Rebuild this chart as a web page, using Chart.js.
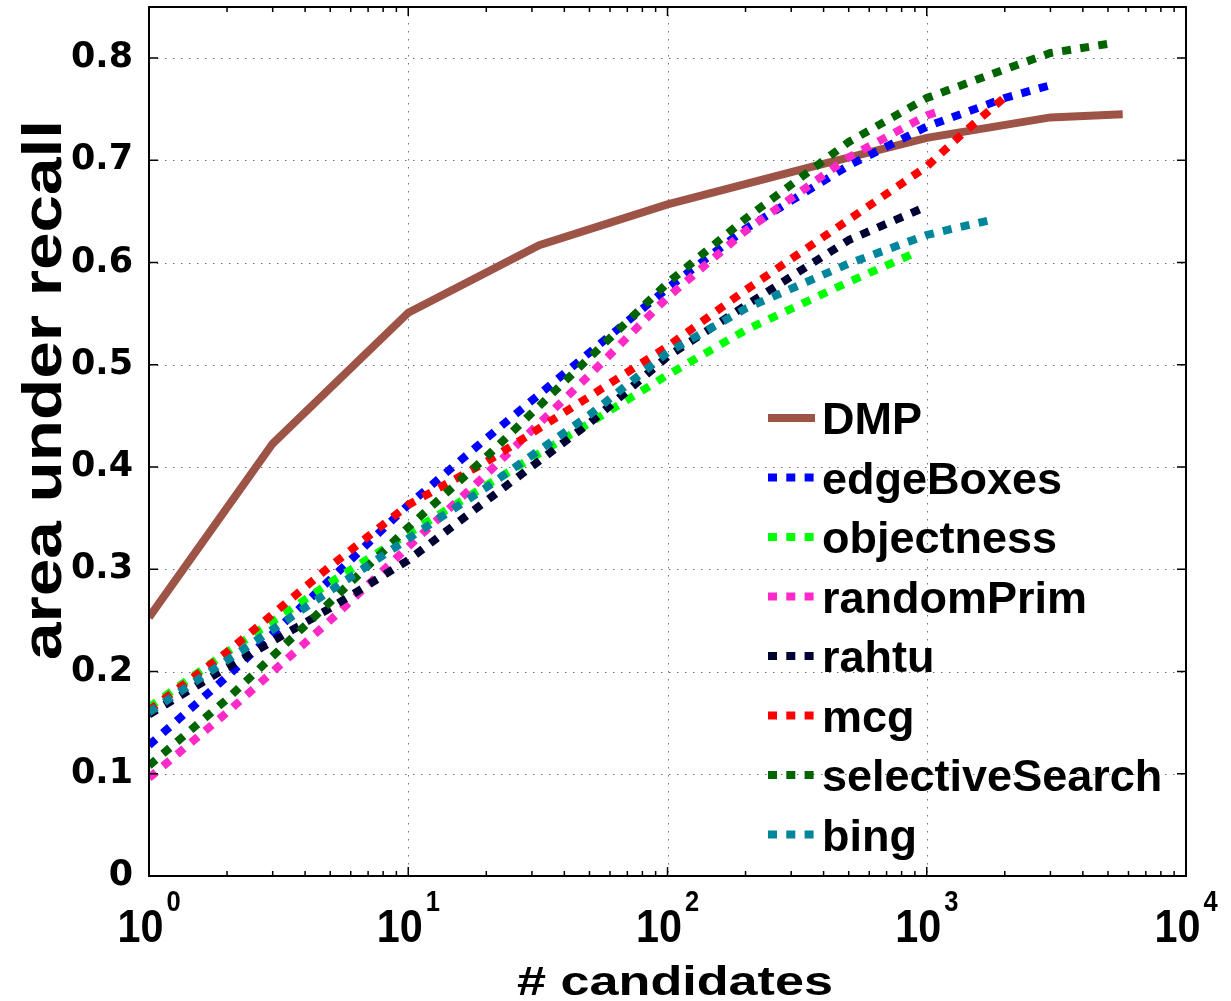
<!DOCTYPE html>
<html lang="en">
<head>
  <meta charset="UTF-8">
  <title>area under recall vs # candidates</title>
  <style>
    body { margin: 0; background: #fff; }
    #wrap { width: 1231px; height: 1001px; }
  </style>
</head>
<body>
  <div id="wrap"><canvas id="chart" width="1231" height="1001"></canvas></div>
  <script src="https://cdn.jsdelivr.net/npm/chart.js"></script>
  <script>
    // values (x = # candidates, y = area under recall)
    const methods = ['DMP', 'edgeBoxes', 'objectness', 'randomPrim', 'rahtu', 'mcg', 'selectiveSearch', 'bing'];
    const colors = ['#9E5347', '#0000FF', '#00FF00', '#FF28C8', '#000033', '#FF0000', '#006400', '#00869A'];

    const dmpX = [1, 3, 10, 32, 100, 350, 1000, 3000, 5700];
    const dmpY = [0.253, 0.423, 0.551, 0.617, 0.657, 0.693, 0.722, 0.742, 0.745];

    const edgeBoxesX = [1, 2, 5, 10, 20, 50, 100, 200, 500, 1000, 2000, 3150];
    const edgeBoxesY = [0.128, 0.195, 0.29, 0.363, 0.428, 0.512, 0.575, 0.633, 0.695, 0.733, 0.761, 0.775];

    const objectnessX = [1, 2, 5, 10, 20, 50, 100, 200, 500, 910];
    const objectnessY = [0.165, 0.219, 0.287, 0.335, 0.382, 0.443, 0.49, 0.534, 0.581, 0.61];

    const randomPrimX = [1, 2, 5, 10, 20, 50, 100, 200, 500, 1000, 1150];
    const randomPrimY = [0.096, 0.16, 0.25, 0.322, 0.393, 0.49, 0.566, 0.631, 0.703, 0.744, 0.749];

    const rahtuX = [1, 2, 5, 10, 20, 50, 100, 200, 500, 1000];
    const rahtuY = [0.158, 0.204, 0.262, 0.309, 0.367, 0.443, 0.508, 0.558, 0.622, 0.655];

    const mcgX = [1, 2, 5, 10, 20, 50, 100, 200, 500, 1000, 1400, 2050];
    const mcgY = [0.162, 0.219, 0.303, 0.363, 0.405, 0.469, 0.518, 0.573, 0.642, 0.694, 0.728, 0.764];

    const selectiveSearchX = [1, 2, 5, 10, 20, 50, 100, 200, 500, 1000, 2000, 3000, 5300];
    const selectiveSearchY = [0.108, 0.173, 0.268, 0.341, 0.41, 0.507, 0.58, 0.643, 0.718, 0.761, 0.789, 0.805, 0.815];

    const bingX = [1, 2, 5, 10, 20, 50, 100, 200, 500, 1000, 1300, 1800];
    const bingY = [0.16, 0.211, 0.279, 0.33, 0.38, 0.451, 0.512, 0.555, 0.599, 0.627, 0.634, 0.642];

    const xTicks = [1, 10, 100, 1000, 10000];
    const xExponents = ['0', '1', '2', '3', '4'];
    const yTicks = [0, 0.1, 0.2, 0.3, 0.4, 0.5, 0.6, 0.7, 0.8];

    const seriesX = [dmpX, edgeBoxesX, objectnessX, randomPrimX, rahtuX, mcgX, selectiveSearchX, bingX];
    const seriesY = [dmpY, edgeBoxesY, objectnessY, randomPrimY, rahtuY, mcgY, selectiveSearchY, bingY];
    const DOT = [9, 9.3];

    const datasets = methods.map((name, i) => ({
      label: name,
      data: seriesX[i].map((x, j) => ({ x: x, y: seriesY[i][j] })),
      borderColor: colors[i],
      borderWidth: 8,
      borderDash: i === 0 ? [] : DOT,
      borderCapStyle: 'butt',
      pointRadius: 0,
      tension: 0,
      fill: false,
      order: methods.length - i   // later series on top, like the original
    }));

    // draw text stretched to a given width (sx given or computed from width)
    function stretchText(ctx, str, x, y, font, sx, align) {
      ctx.save();
      ctx.font = font;
      const w = ctx.measureText(str).width * sx;
      let left = x;
      if (align === 'center') left = x - w / 2;
      if (align === 'right') left = x - w;
      ctx.translate(left, y);
      ctx.scale(sx, 1);
      ctx.textAlign = 'left';
      ctx.fillText(str, 0, 0);
      ctx.restore();
      return w;
    }
    function fitText(ctx, str, cx, y, font, width) {
      ctx.font = font;
      const sx = width / ctx.measureText(str).width;
      stretchText(ctx, str, cx, y, font, sx, 'center');
    }

    const frame = {
      id: 'frame',
      beforeDatasetsDraw(chart) {
        const { ctx, chartArea: a, scales: { x, y } } = chart;
        ctx.save();
        ctx.strokeStyle = '#6f6f6f';
        ctx.lineWidth = 1;
        ctx.setLineDash([1.5, 6.5]);
        yTicks.forEach(v => {
          if (v === 0) return;
          const py = Math.round(y.getPixelForValue(v)) + 0.5;
          ctx.beginPath(); ctx.moveTo(a.left, py); ctx.lineTo(a.right, py); ctx.stroke();
        });
        xTicks.forEach(v => {
          const px = Math.round(x.getPixelForValue(v)) + 0.5;
          if (px < a.left + 2 || px > a.right - 2) return;
          ctx.beginPath(); ctx.moveTo(px, a.top); ctx.lineTo(px, a.bottom); ctx.stroke();
        });
        ctx.restore();
      },
      afterDatasetsDraw(chart) {
        const { ctx, chartArea: a, scales: { x, y } } = chart;
        ctx.save();
        ctx.strokeStyle = '#000';
        ctx.setLineDash([]);
        // tick marks, inside the box
        ctx.lineWidth = 1.5;
        ctx.beginPath();
        for (let d = 0; d < 4; d++) {
          for (let k = 1; k < 10; k++) {
            const v = k * Math.pow(10, d);
            const px = x.getPixelForValue(v);
            const len = k === 1 ? 9 : 5;
            ctx.moveTo(px, a.bottom); ctx.lineTo(px, a.bottom - len);
            ctx.moveTo(px, a.top); ctx.lineTo(px, a.top + len);
          }
        }
        yTicks.forEach(v => {
          const py = y.getPixelForValue(v);
          ctx.moveTo(a.left, py); ctx.lineTo(a.left + 9, py);
          ctx.moveTo(a.right, py); ctx.lineTo(a.right - 9, py);
        });
        ctx.stroke();
        ctx.lineWidth = 2;
        ctx.strokeRect(a.left, a.top, a.right - a.left, a.bottom - a.top);

        ctx.fillStyle = '#000';
        ctx.textBaseline = 'alphabetic';
        // x tick labels 10^k
        xTicks.forEach((v, i) => {
          const px = x.getPixelForValue(v);
          ctx.font = 'bold 47px "Liberation Sans"';
          const w10 = ctx.measureText('10').width * 0.88;
          ctx.font = 'bold 29px "Liberation Sans"';
          const we = ctx.measureText(xExponents[i]).width * 0.88;
          const left = px - (w10 + 3 + we) / 2;
          stretchText(ctx, '10', left, 942, 'bold 47px "Liberation Sans"', 0.88, 'left');
          stretchText(ctx, xExponents[i], left + w10 + 3, 911, 'bold 29px "Liberation Sans"', 0.88, 'left');
        });
        // axis titles
        fitText(ctx, '# candidates', 675, 995, 'bold 41px "Liberation Sans"', 316);
        ctx.save();
        ctx.translate(61, 390);
        ctx.rotate(-Math.PI / 2);
        fitText(ctx, 'area under recall', 0, 0, 'bold 55px "Liberation Sans"', 540);
        ctx.restore();

        // legend inside the axes
        ctx.textAlign = 'left';
        ctx.font = 'bold 45px "Liberation Sans"';
        chart.data.datasets.forEach((ds, i) => {
          const cy = 418 + i * 59.5;
          ctx.save();
          ctx.strokeStyle = ds.borderColor;
          ctx.lineWidth = 8;
          ctx.lineCap = 'butt';
          ctx.setLineDash(ds.borderDash);
          ctx.beginPath(); ctx.moveTo(768, cy); ctx.lineTo(815, cy); ctx.stroke();
          ctx.restore();
          ctx.fillText(ds.label, 822, cy + 16);
        });
        ctx.restore();
      }
    };

    new Chart(document.getElementById('chart'), {
      type: 'line',
      data: { datasets: datasets },
      options: {
        responsive: false,
        devicePixelRatio: 1,
        animation: false,
        layout: { autoPadding: false, padding: { top: 7, right: 45, left: 0, bottom: 0 } },
        plugins: { legend: { display: false }, tooltip: { enabled: false } },
        scales: {
          x: {
            type: 'logarithmic', min: 1, max: 10000,
            grid: { display: false }, border: { display: false },
            ticks: { display: false },
            afterFit(s) { s.height = 125; s.paddingLeft = 0; s.paddingRight = 0; }
          },
          y: {
            type: 'linear', min: 0, max: 0.85,
            grid: { display: false }, border: { display: false },
            ticks: {
              color: '#000', padding: 8,
              font: { family: 'DejaVu Sans', weight: 'bold', size: 35 },
              callback: v => (v === 0 ? '0' : v.toFixed(1))
            },
            afterBuildTicks(s) { s.ticks = yTicks.map(v => ({ value: v })); },
            afterFit(s) { s.width = 149; s.paddingTop = 0; s.paddingBottom = 0; }
          }
        }
      },
      plugins: [frame]
    });
  </script>
</body>
</html>
